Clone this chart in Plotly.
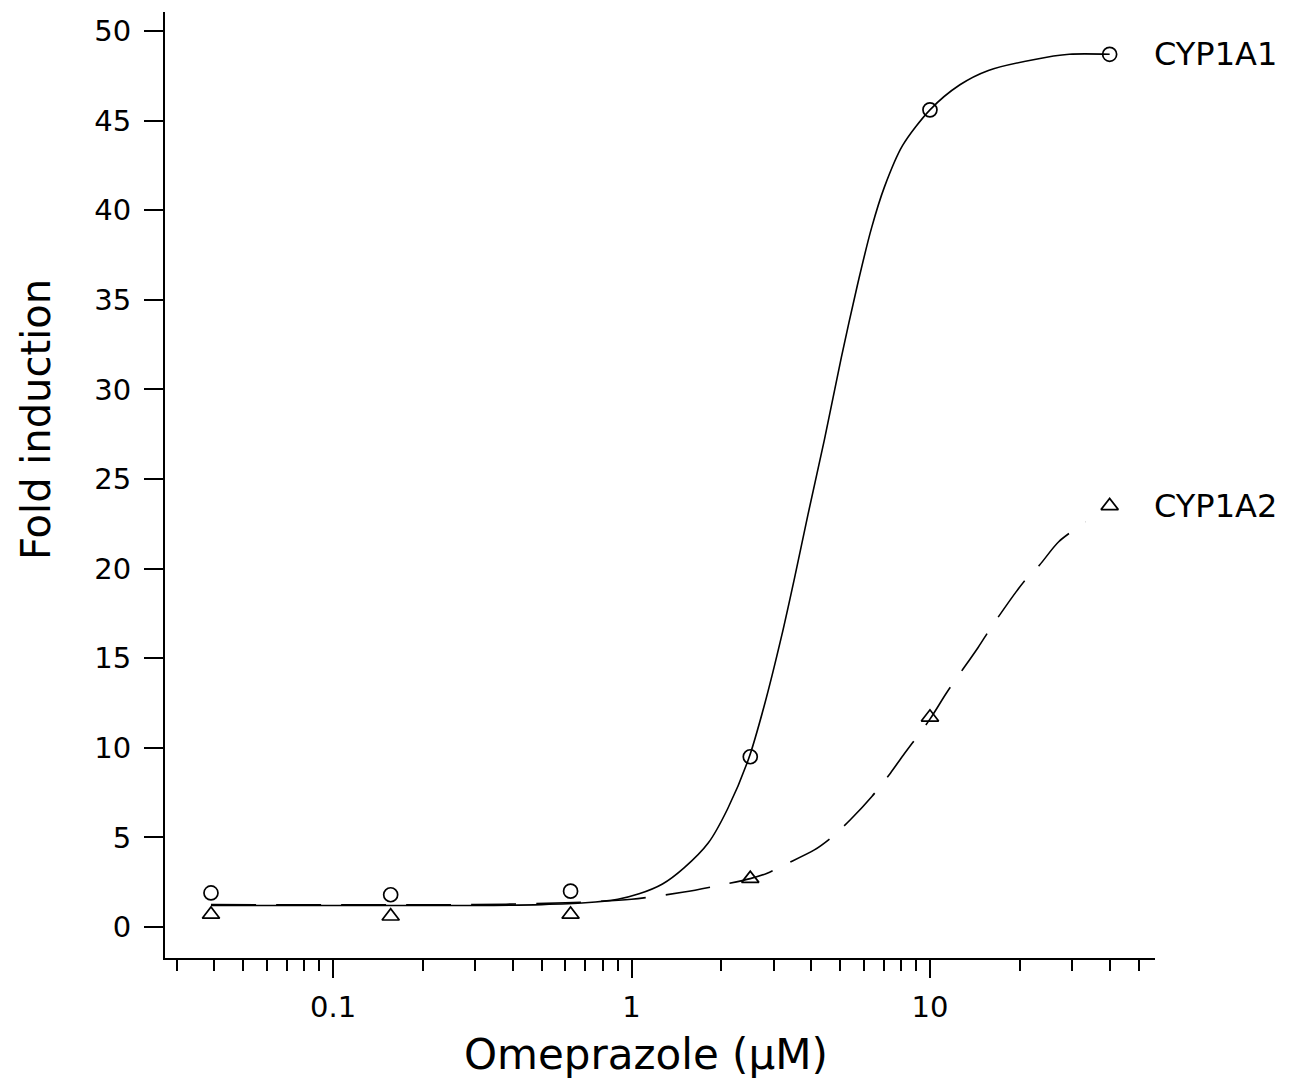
import math
import plotly.graph_objects as go

# ---- data ----
conc = [0.039, 0.156, 0.625, 2.5, 10, 40]
cyp1a1 = [1.9, 1.8, 2.0, 9.5, 45.6, 48.7]
cyp1a2 = [0.7, 0.6, 0.7, 2.7, 11.7, 23.5]

# fitted curves
fit1_x = [0.039, 0.3, 0.5, 0.7, 0.9, 1.06, 1.27, 1.5, 1.81, 2.1, 2.47, 2.79, 3.18,
          3.52, 3.9, 4.43, 5.05, 5.71, 6.37, 7.04, 8.09, 10, 12.6, 15.7, 22.2, 29.3, 40]
fit1_y = [1.2, 1.2, 1.25, 1.35, 1.55, 1.85, 2.4, 3.3, 4.7, 6.6, 9.4, 12.4, 16.2,
          19.5, 23.0, 27.2, 31.8, 35.8, 39.0, 41.3, 43.6, 45.6, 47.0, 47.8, 48.4, 48.7, 48.7]

fit2_x = [0.039, 0.3, 0.6, 1.0, 1.5, 2.0, 2.5, 2.85, 3.28, 4.1, 4.68, 5.42, 6.4,
          7.38, 8.15, 10, 11.4, 14.5, 16.0, 20.7, 23.3, 27, 33.2]
fit2_y = [1.25, 1.25, 1.35, 1.55, 1.95, 2.35, 2.7, 3.0, 3.5, 4.3, 5.0, 6.0, 7.3,
          8.6, 9.6, 11.6, 13.1, 15.6, 16.7, 19.3, 20.2, 21.5, 22.6]

series_labels = ["CYP1A1", "CYP1A2"]
x_title = "Omeprazole (µM)"
y_title = "Fold induction"
x_major = [0.1, 1, 10]
x_major_text = ["0.1", "1", "10"]
x_minor = [0.03, 0.04, 0.05, 0.06, 0.07, 0.08, 0.09,
           0.2, 0.3, 0.4, 0.5, 0.6, 0.7, 0.8, 0.9,
           2, 3, 4, 5, 6, 7, 8, 9,
           20, 30, 40, 50]
y_ticks = [0, 5, 10, 15, 20, 25, 30, 35, 40, 45, 50]

FONT = "DejaVu Sans"

fig = go.Figure()

fig.add_trace(go.Scatter(x=fit1_x, y=fit1_y, mode="lines",
                         line=dict(color="black", width=1.6, shape="spline", smoothing=0.8),
                         showlegend=False, hoverinfo="skip"))
fig.add_trace(go.Scatter(x=fit2_x, y=fit2_y, mode="lines",
                         line=dict(color="black", width=1.6, dash="45px,20px",
                                   shape="spline", smoothing=0.8),
                         showlegend=False, hoverinfo="skip"))
fig.add_trace(go.Scatter(x=conc, y=cyp1a1, mode="markers", name=series_labels[0],
                         marker=dict(symbol="circle-open", size=14, color="black",
                                     line=dict(width=1.7, color="black")),
                         showlegend=False))
fig.add_trace(go.Scatter(x=conc, y=cyp1a2, mode="markers", name=series_labels[1],
                         marker=dict(symbol="triangle-up-open", size=15, color="black",
                                     line=dict(width=1.7, color="black")),
                         showlegend=False))

for lab, yv in zip(series_labels, [cyp1a1[-1], cyp1a2[-1]]):
    fig.add_annotation(x=math.log10(conc[-1]), y=yv, xref="x", yref="y",
                       text=lab, showarrow=False, xanchor="left", yanchor="middle",
                       xshift=42, font=dict(family=FONT, size=32, color="black"))

# axis titles placed where they sit in the reference
fig.add_annotation(x=-0.1303, y=0.5687, xref="paper", yref="paper",
                   text=y_title, textangle=-90, showarrow=False,
                   xanchor="center", yanchor="middle",
                   font=dict(family=FONT, size=40, color="black"))
fig.add_annotation(x=0.4859, y=-0.1015, xref="paper", yref="paper",
                   text=x_title, showarrow=False,
                   xanchor="center", yanchor="middle",
                   font=dict(family=FONT, size=42, color="black"))

fig.update_layout(
    width=1294, height=1084,
    margin=dict(l=165, r=139, t=12, b=126),
    paper_bgcolor="white", plot_bgcolor="white",
    font=dict(family=FONT, color="black"),
)

fig.update_xaxes(
    type="log", range=[-1.563, 1.754],
    showline=True, linecolor="black", linewidth=2,
    showgrid=False, zeroline=False,
    ticks="outside", ticklen=18, tickwidth=2, tickcolor="black",
    tickvals=x_major, ticktext=x_major_text,
    tickfont=dict(family=FONT, size=29, color="black"),
    ticklabelstandoff=4,
    minor=dict(ticks="outside", ticklen=11, tickwidth=2, tickcolor="black",
               tickvals=x_minor, showgrid=False),
)
fig.update_yaxes(
    range=[-1.73, 51.06],
    showline=True, linecolor="black", linewidth=2,
    showgrid=False, zeroline=False,
    ticks="outside", ticklen=19, tickwidth=2, tickcolor="black",
    tickvals=y_ticks,
    tickfont=dict(family=FONT, size=29, color="black"),
    ticklabelstandoff=7,
)

fig.write_html("out.html", config={"displayModeBar": False})
